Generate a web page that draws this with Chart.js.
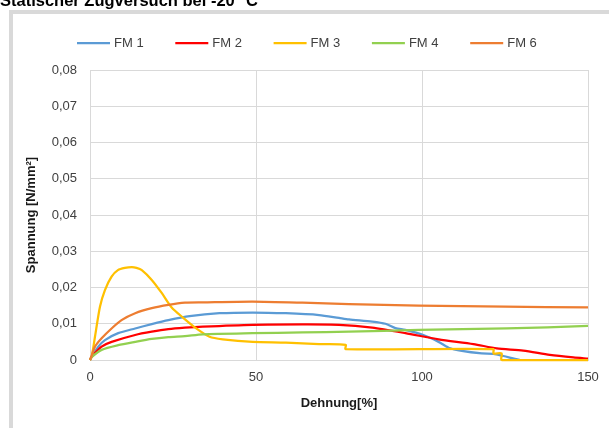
<!DOCTYPE html>
<html>
<head>
<meta charset="utf-8">
<script src="https://cdn.jsdelivr.net/npm/chart.js@4.4.1/dist/chart.umd.min.js"></script>
<style>
  html, body { margin: 0; padding: 0; background: #fff; width: 609px; height: 428px; overflow: hidden; }
  body { position: relative; font-family: "Liberation Sans", Arial, sans-serif; }
  #frame { position: absolute; left: 9px; top: 10px; width: 700px; height: 500px;
           border-left: 4px solid #d9d9d9; border-top: 4px solid #d9d9d9; }
  #title { position: absolute; left: 0; top: -8px; font-weight: bold; font-size: 16.5px;
           line-height: 16.5px; white-space: nowrap; color: #000; z-index: 2; }
  #chart { position: absolute; left: 0; top: 0; z-index: 1; }
</style>
</head>
<body>
<div id="frame"></div>
<div id="title">Statischer Zugversuch bei -20 °C</div>
<canvas id="chart" width="609" height="428"></canvas>
<script>
// Dehnung [%] / Spannung [N/mm²] per specimen
const fm1Strain = [0, 0.5, 2.5, 4.5, 8.5, 13.6, 18.6, 23.6, 30, 39, 49, 59, 69, 75, 78, 85, 89, 92, 95, 100.4, 105, 108, 112, 118, 121.5, 124.5, 128, 129.5];
const fm1Stress = [0, 0.0009, 0.0037, 0.0055, 0.0074, 0.0087, 0.0099, 0.011, 0.0121, 0.0129, 0.0131, 0.0129, 0.0124, 0.0116, 0.0112, 0.0106, 0.01, 0.0088, 0.0083, 0.0069, 0.005, 0.0034, 0.0025, 0.0018, 0.0017, 0.0011, 0.0003, 0];

const fm2Strain = [0, 0.5, 3.5, 6.5, 13.6, 18.6, 23.6, 28.6, 34, 49, 64, 75, 85, 95, 105, 115.5, 122.5, 130.5, 138.5, 145.6, 150];
const fm2Stress = [0, 0.0009, 0.0037, 0.005, 0.0069, 0.0078, 0.0085, 0.0089, 0.0092, 0.0097, 0.0098, 0.0097, 0.0089, 0.0074, 0.0057, 0.0044, 0.0032, 0.0026, 0.0014, 0.0007, 0.0004];

const fm3Strain = [0, 0.5, 1.5, 3, 4.5, 6.5, 8.4, 10.5, 12.6, 14, 15.6, 18.6, 21.6, 24.6, 28, 32, 36, 40, 49, 59, 69, 77, 77, 121.5, 121.5, 124, 124, 150];
const fm3Stress = [0, 0.0009, 0.0064, 0.0147, 0.0193, 0.023, 0.0248, 0.0254, 0.0256, 0.0254, 0.0248, 0.0221, 0.0185, 0.0145, 0.0117, 0.0087, 0.0064, 0.0057, 0.005, 0.0048, 0.0044, 0.0042, 0.003, 0.003, 0.0018, 0.0018, 0, 0];

const fm4Strain = [0, 0.5, 3.5, 8.5, 13.6, 18.6, 23.6, 28.6, 34, 49, 64, 78, 99, 125.5, 150];
const fm4Stress = [0, 0.0008, 0.0028, 0.0041, 0.005, 0.0058, 0.0063, 0.0066, 0.0071, 0.0074, 0.0076, 0.0078, 0.0083, 0.0087, 0.0094];

const fm6Strain = [0, 0.5, 1.5, 3.5, 6.5, 9.5, 13.6, 18.6, 23.6, 28.6, 34, 49, 64, 78, 99, 125, 150];
const fm6Stress = [0, 0.0012, 0.0037, 0.006, 0.0087, 0.011, 0.0129, 0.0143, 0.0152, 0.0158, 0.0159, 0.0161, 0.0158, 0.0154, 0.015, 0.0147, 0.0145];

const seriesNames = ['FM 1', 'FM 2', 'FM 3', 'FM 4', 'FM 6'];
const seriesColors = ['#5b9bd5', '#ff0000', '#ffc000', '#92d050', '#ed7d31'];
const strainSets = [fm1Strain, fm2Strain, fm3Strain, fm4Strain, fm6Strain];
const stressSets = [fm1Stress, fm2Stress, fm3Stress, fm4Stress, fm6Stress];

const xTicks = [0, 50, 100, 150];
const yMax = 0.08;

const FONT = '"Liberation Sans", Arial, sans-serif';

function commaNum(v) {
  if (Math.abs(v) < 1e-9) return '0';
  return v.toFixed(2).replace('.', ',');
}

const datasets = seriesNames.map((name, i) => ({
  label: name,
  data: strainSets[i].map((x, k) => ({ x: x, y: stressSets[i][k] })),
  borderColor: seriesColors[i],
  backgroundColor: seriesColors[i],
  borderWidth: 2.25,
  pointRadius: 0,
  tension: 0.25,
  clip: 4,
  order: seriesNames.length - i  // later series on top
}));

// legend row above the plot: short line sample + name
const lineLegend = {
  id: 'lineLegend',
  afterDraw(chart) {
    const ctx = chart.ctx;
    const y = 43, sample = 33, gap = 4, step = 98.3;
    let x = 77;
    ctx.save();
    ctx.font = '13px ' + FONT;
    ctx.textBaseline = 'middle';
    ctx.fillStyle = '#404040';
    seriesNames.forEach((name, i) => {
      ctx.strokeStyle = seriesColors[i];
      ctx.lineWidth = 2.25;
      ctx.beginPath();
      ctx.moveTo(x, y);
      ctx.lineTo(x + sample, y);
      ctx.stroke();
      ctx.fillText(name, x + sample + gap, y + 0.5);
      x += step;
    });
    ctx.restore();
  }
};

new Chart(document.getElementById('chart'), {
  type: 'line',
  data: { datasets },
  plugins: [lineLegend],
  options: {
    responsive: false,
    animation: false,
    layout: { padding: { top: 70, right: 21, left: 0, bottom: 0 } },
    plugins: { legend: { display: false }, tooltip: { enabled: false } },
    scales: {
      x: {
        type: 'linear',
        min: 0, max: 150,
        afterBuildTicks(scale) { scale.ticks = xTicks.map(v => ({ value: v })); },
        afterFit(scale) { scale.height = 68; },
        grid: { color: '#d9d9d9', drawTicks: false, lineWidth: 1 },
        border: { color: '#d9d9d9' },
        ticks: { padding: 10, color: '#404040', font: { family: FONT, size: 13 }, maxRotation: 0 },
        title: { display: true, text: 'Dehnung[%]', color: '#1a1a1a',
                 font: { family: FONT, size: 13, weight: 'bold' }, padding: { top: 0, bottom: 17 } }
      },
      y: {
        min: 0, max: yMax,
        afterFit(scale) { scale.width = 90; },
        grid: { color: '#d9d9d9', drawTicks: false, lineWidth: 1 },
        border: { color: '#d9d9d9' },
        ticks: { stepSize: 0.01, padding: 13, color: '#404040', font: { family: FONT, size: 13 },
                 callback: v => commaNum(v) },
        title: { display: true, text: 'Spannung [N/mm²]', color: '#1a1a1a',
                 font: { family: FONT, size: 13, weight: 'bold' }, padding: { top: 24, bottom: 0 } }
      }
    }
  }
});
</script>
</body>
</html>
